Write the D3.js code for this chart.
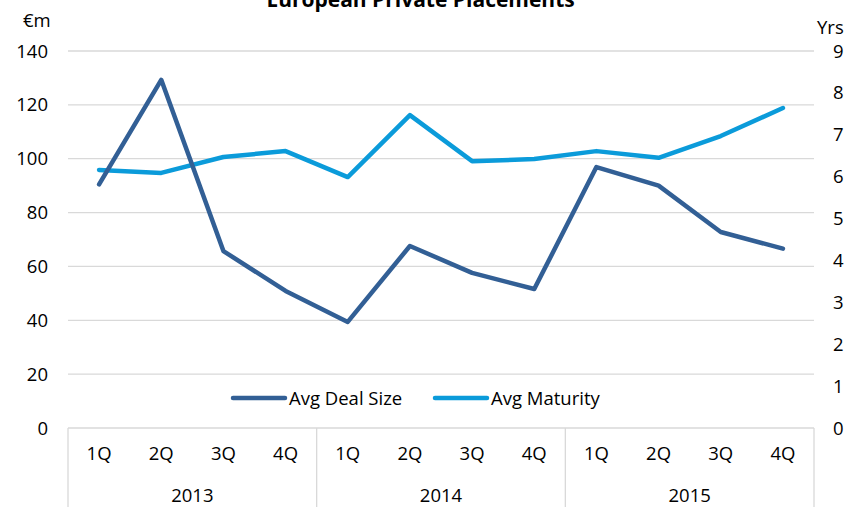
<!DOCTYPE html>
<html>
<head>
<meta charset="utf-8">
<script src="https://cdn.jsdelivr.net/npm/d3@7"></script>
<style>
  html, body { margin: 0; padding: 0; background: #fff; }
  svg { display: block; font-family: "Open Sans", "Noto Sans", sans-serif; }
</style>
</head>
<body>
<svg id="chart" width="852" height="507"></svg>
<script>
const quarters = ["1Q","2Q","3Q","4Q","1Q","2Q","3Q","4Q","1Q","2Q","3Q","4Q"];
const years = ["2013","2014","2015"];
const dealSize = [90.5, 129.3, 65.7, 50.9, 39.4, 67.6, 57.6, 51.6, 96.9, 90.0, 72.8, 66.6];
const maturity = [6.16, 6.09, 6.47, 6.61, 5.99, 7.47, 6.37, 6.42, 6.61, 6.45, 6.97, 7.64];
const leftTicks = [0, 20, 40, 60, 80, 100, 120, 140];
const rightTicks = [0, 1, 2, 3, 4, 5, 6, 7, 8, 9];
const seriesNames = ["Avg Deal Size", "Avg Maturity"];

(function () {
const svg = d3.select("#chart");
const pL = 68, pR = 814, pT = 51, pB = 428;
const darkBlue = "#325F95", lightBlue = "#0B9BDA";
const fontSize = 18.5;

const x = d3.scaleBand().domain(d3.range(quarters.length)).range([pL, pR]);
const yL = d3.scaleLinear().domain([0, 140]).range([pB, pT]);
const yR = d3.scaleLinear().domain([0, 9]).range([pB, pT]);

// gridlines
svg.append("g").selectAll("line").data(leftTicks.filter(d => d > 0)).join("line")
  .attr("x1", pL).attr("x2", pR)
  .attr("y1", d => yL(d)).attr("y2", d => yL(d))
  .attr("stroke", "#D9D9D9").attr("stroke-width", 1.3);

// bottom axis line
svg.append("line").attr("x1", pL).attr("x2", pR)
  .attr("y1", pB).attr("y2", pB)
  .attr("stroke", "#D9D9D9").attr("stroke-width", 1.3);

// year group separators
const groupW = (pR - pL) / years.length;
svg.append("g").selectAll("line").data(d3.range(years.length + 1)).join("line")
  .attr("x1", i => pL + i * groupW).attr("x2", i => pL + i * groupW)
  .attr("y1", pB).attr("y2", 507)
  .attr("stroke", "#D9D9D9").attr("stroke-width", 1.3);

// quarter labels
svg.append("g").selectAll("text").data(quarters).join("text")
  .attr("x", (d, i) => x(i) + x.bandwidth() / 2)
  .attr("y", 460)
  .attr("text-anchor", "middle")
  .attr("font-size", fontSize).attr("fill", "#000")
  .text(d => d);

// year labels
svg.append("g").selectAll("text").data(years).join("text")
  .attr("x", (d, i) => pL + i * groupW + groupW / 2)
  .attr("y", 502)
  .attr("text-anchor", "middle")
  .attr("font-size", fontSize).attr("fill", "#000")
  .text(d => d);

// left tick labels
svg.append("g").selectAll("text").data(leftTicks).join("text")
  .attr("x", 48).attr("y", d => yL(d) + 6.5)
  .attr("text-anchor", "end")
  .attr("font-size", fontSize).attr("fill", "#000")
  .text(d => d);

// right tick labels
svg.append("g").selectAll("text").data(rightTicks).join("text")
  .attr("x", 833).attr("y", d => yR(d) + 6.5)
  .attr("text-anchor", "start")
  .attr("font-size", fontSize).attr("fill", "#000")
  .text(d => d);

// unit labels
svg.append("text").attr("x", 23).attr("y", 27).attr("font-size", fontSize).text("€m");
svg.append("text").attr("x", 817).attr("y", 34).attr("font-size", fontSize).text("Yrs");

// title
const title = svg.append("text").attr("x", 424).attr("y", 7)
  .attr("text-anchor", "middle").attr("font-size", 21).attr("font-weight", "bold").attr("fill", "#000");
title.append("tspan").text("European Private Placements");
title.append("tspan").attr("font-size", 12).attr("dy", -8).text("1");

// lines
const cx = i => x(i) + x.bandwidth() / 2;
const lineL = d3.line().x((d, i) => cx(i)).y(d => yL(d));
const lineR = d3.line().x((d, i) => cx(i)).y(d => yR(d));

svg.append("path").datum(maturity).attr("d", lineR)
  .attr("fill", "none").attr("stroke", lightBlue).attr("stroke-width", 4.5)
  .attr("stroke-linejoin", "round").attr("stroke-linecap", "round");
svg.append("path").datum(dealSize).attr("d", lineL)
  .attr("fill", "none").attr("stroke", darkBlue).attr("stroke-width", 4.5)
  .attr("stroke-linejoin", "round").attr("stroke-linecap", "round");

// legend
const legend = [
  { name: seriesNames[0], color: darkBlue, x: 233 },
  { name: seriesNames[1], color: lightBlue, x: 435 }
];
const lg = svg.append("g").selectAll("g").data(legend).join("g");
lg.append("line")
  .attr("x1", d => d.x).attr("x2", d => d.x + 52)
  .attr("y1", 398).attr("y2", 398)
  .attr("stroke", d => d.color).attr("stroke-width", 4.5).attr("stroke-linecap", "round");
lg.append("text")
  .attr("x", d => d.x + 56).attr("y", 404.5)
  .attr("font-size", fontSize).attr("fill", "#000")
  .text(d => d.name);
})();
</script>
</body>
</html>
